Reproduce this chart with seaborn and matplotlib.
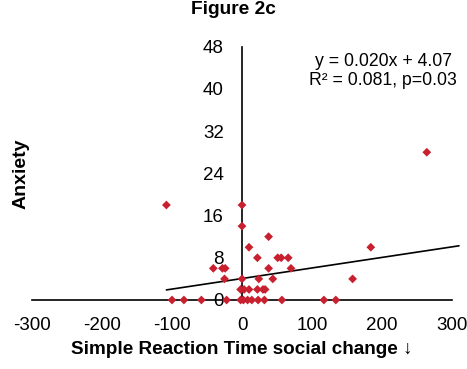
import numpy as np
import pandas as pd
import matplotlib
matplotlib.use("Agg")
import matplotlib.pyplot as plt
import seaborn as sns

# values
rt_change = [-100, -83, -58, -22, -2, 2, 8, 14, 23, 32, 57, 117, 134,
             -2, 3, 10, 22, 30, 33,
             -25, 0, 24, 44, 158,
             -41, -28, -24, 38, 70,
             22, 51, 56, 66,
             10, 184,
             38,
             0,
             0, -108,
             264]
anxiety = [0] * 13 + [2] * 6 + [4] * 5 + [6] * 5 + [8] * 4 + [10] * 2 + [12] + [14] + [18] * 2 + [28]
slope = 0.020
intercept = 4.07
fit_text = "y = 0.020x + 4.07\nR\u00b2 = 0.081, p=0.03"

df = pd.DataFrame({"rt": rt_change, "anx": anxiety})

sns.set_theme(style="white")
plt.rcParams["font.family"] = ["Liberation Sans", "DejaVu Sans"]
plt.rcParams["axes.unicode_minus"] = False
plt.rcParams["text.color"] = "black"
plt.rcParams["axes.labelcolor"] = "black"

fig = plt.figure(figsize=(4.67, 3.69), dpi=100)
ax = fig.add_axes([32 / 467, 69 / 369, 420 / 467, 253.3 / 369])

sns.scatterplot(data=df, x="rt", y="anx", marker="D", s=20, color="#C8202F",
                edgecolor="none", ax=ax, clip_on=False, zorder=3)

xs = np.array([min(rt_change), 310])
ax.plot(xs, slope * xs + intercept, color="black", lw=1.2, clip_on=False, zorder=2)

ax.set_xlim(-300, 300)
ax.set_ylim(0, 48)
ax.set_xticks(range(-300, 301, 100))
ax.set_yticks(range(0, 49, 8))
ax.tick_params(axis="both", length=0, labelsize=13.5, colors="black")
ax.tick_params(axis="x", pad=12)
ax.tick_params(axis="y", pad=13)

for side in ["top", "right"]:
    ax.spines[side].set_visible(False)
ax.spines["left"].set_position(("data", 0))
ax.spines["bottom"].set_position(("data", 0))
for side in ["left", "bottom"]:
    ax.spines[side].set_color("black")
    ax.spines[side].set_linewidth(1.2)

ax.set_xlabel("Simple Reaction Time social change \u2193", fontsize=13.6, fontweight="bold")
ax.set_ylabel("Anxiety", fontsize=14, fontweight="bold")
ax.xaxis.set_label_coords(0.5, -0.162)
ax.yaxis.set_label_coords(-0.005, 0.5)

ax.text(0.836, 0.904, fit_text, transform=ax.transAxes, ha="center", va="center",
        fontsize=12.7, linespacing=1.1)
fig.text(0.5, 1 - 10 / 369, "Figure 2c", ha="center", va="center",
         fontsize=13.8, fontweight="bold")

fig.savefig("out.png", dpi=100)
